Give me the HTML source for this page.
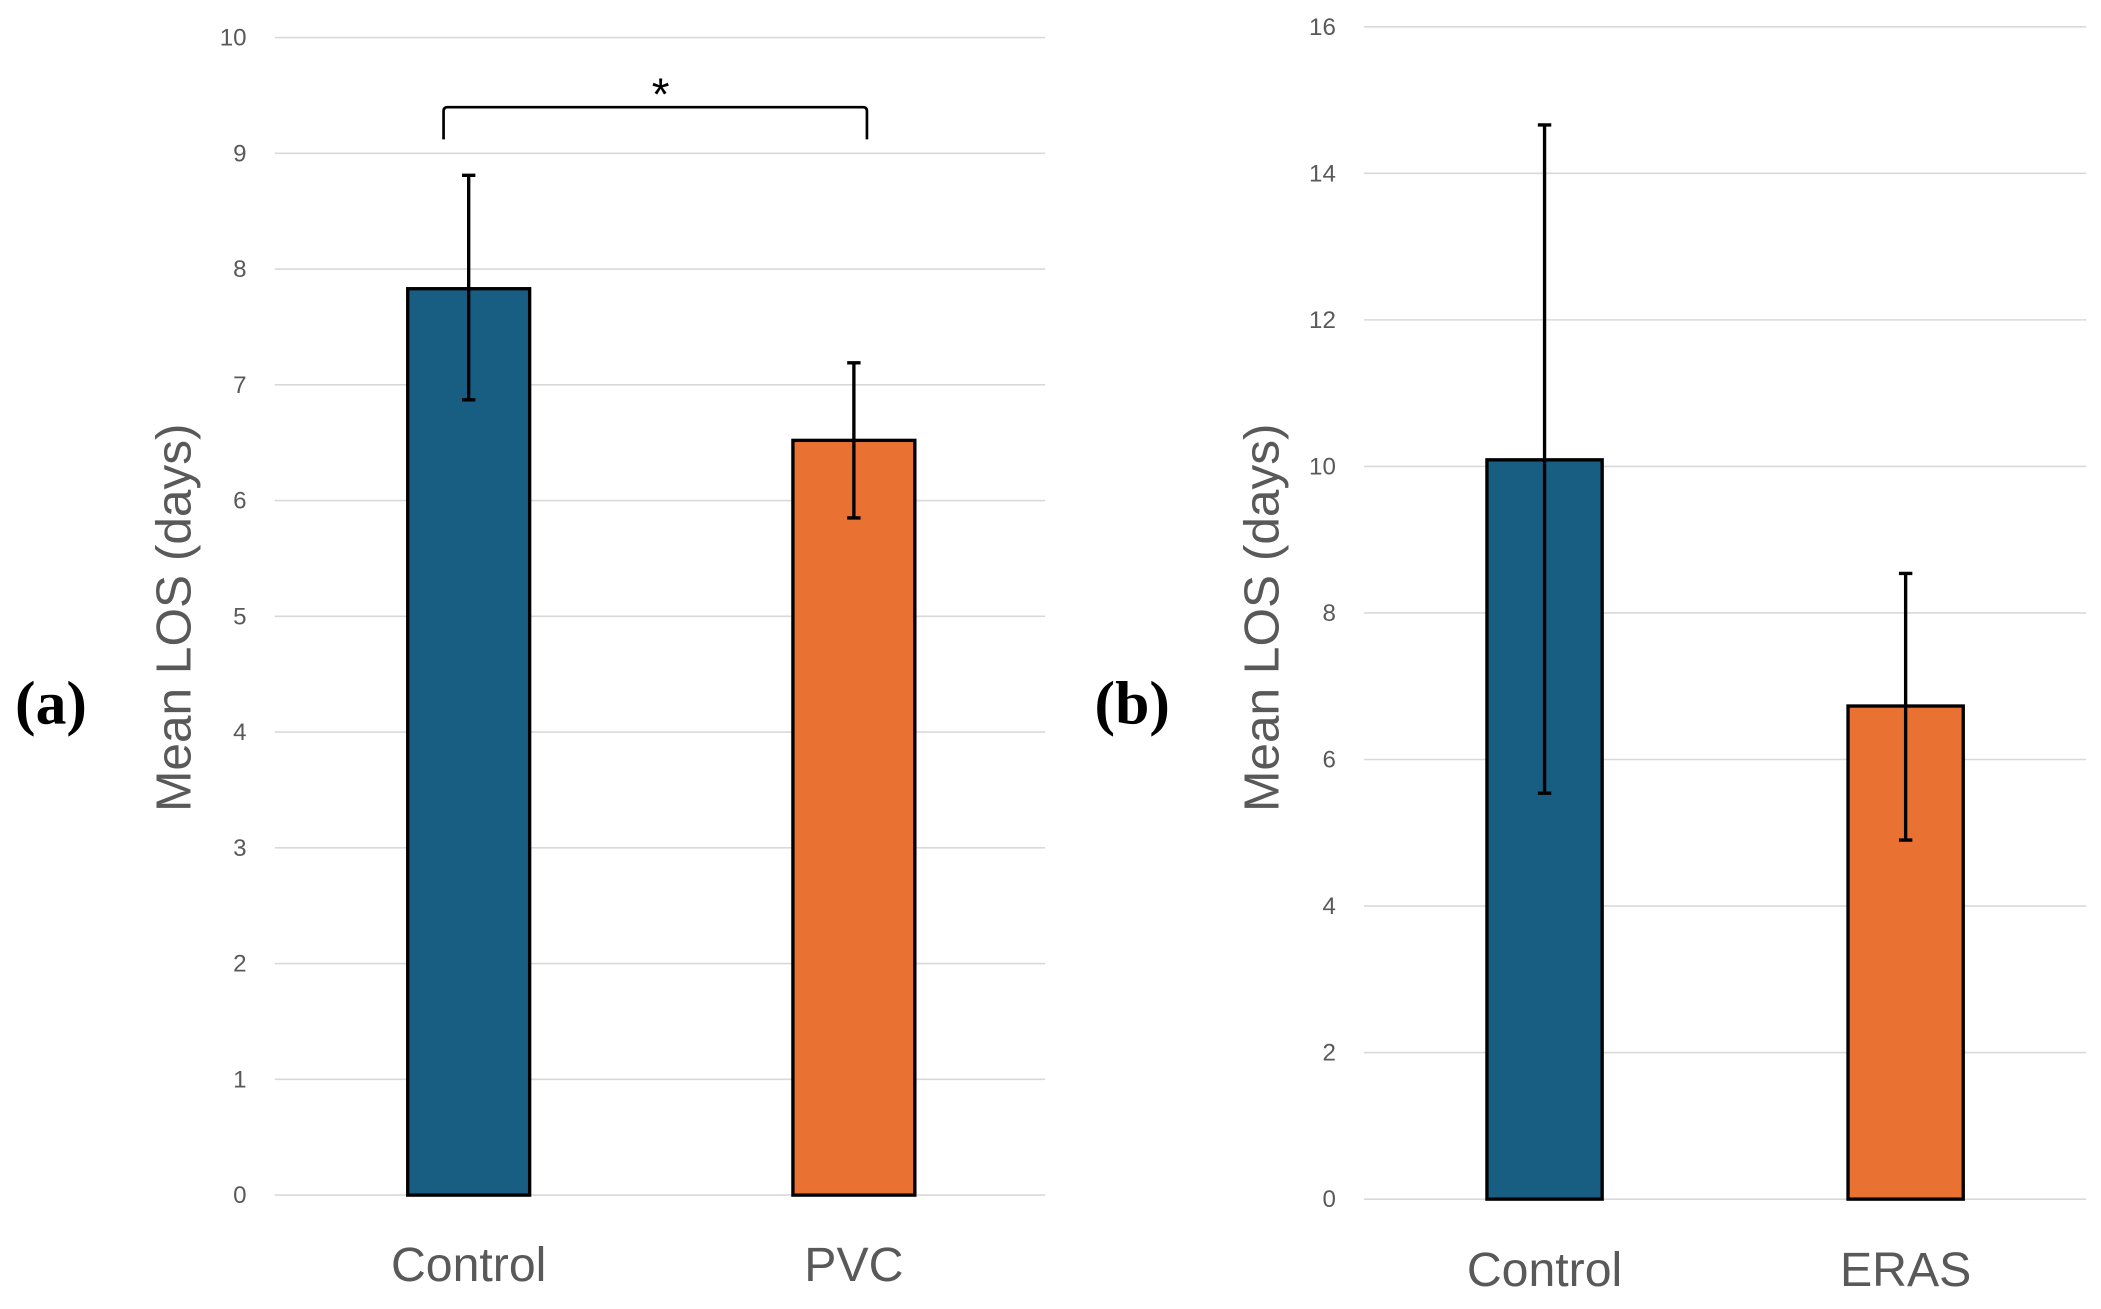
<!DOCTYPE html>
<html><head><meta charset="utf-8"><style>html,body{margin:0;padding:0;background:#fff}svg{display:block}</style></head>
<body>
<svg id="chart" width="2101" height="1309" viewBox="0 0 1568 977" xmlns="http://www.w3.org/2000/svg" font-family="Liberation Sans, sans-serif"></svg>
<script>
const catsA = ["Control", "PVC"];
const valsA = [7.83, 6.52];
const errLoA = [6.87, 5.85];
const errHiA = [8.81, 7.19];
const ticksA = [0,1,2,3,4,5,6,7,8,9,10];
const catsB = ["Control", "ERAS"];
const valsB = [10.09, 6.73];
const errLoB = [5.54, 4.90];
const errHiB = [14.66, 8.54];
const ticksB = [0,2,4,6,8,10,12,14,16];
const colors = ["#175e82", "#e97132"];
const NS = "http://www.w3.org/2000/svg";
const svg = document.getElementById('chart');
function mk(tag, attrs, parent, text){
  const e = document.createElementNS(NS, tag);
  for (const k in attrs) e.setAttribute(k, attrs[k]);
  if (text !== undefined) e.textContent = text;
  (parent||svg).appendChild(e); return e;
}
function panel(p){
  const g = mk('g', {});
  
  
  const y = v => p.y0 - (v - p.min) / (p.max - p.min) * (p.y0 - p.y1);
  p.ticks.forEach(t => {
    const l = mk('line', {x1:p.gx0, x2:p.gx1, y1:y(t), y2:y(t), stroke:'#d9d9d9', 'stroke-width':1.2}, g);
    
    
    const tx = mk('text', {x:p.tickX, y:y(t)+6, 'text-anchor':'end', 'font-size':18, fill:'#595959'}, g, String(t));
    
    
  });
  const slot = (p.gx1 - p.gx0) / p.cats.length;
  p.cats.forEach((c, i) => {
    const cx = p.gx0 + slot * (i + 0.5) + p.shift;
    const r = mk('rect', {x:cx - p.bw/2, y:y(p.vals[i]), width:p.bw, height:y(0)-y(p.vals[i]), fill:colors[i], stroke:'#000', 'stroke-width':2.5}, g);
    
    
    const e = mk('path', {d:`M${cx},${y(p.lo[i])}V${y(p.hi[i])}M${cx-5},${y(p.lo[i])}H${cx+5}M${cx-5},${y(p.hi[i])}H${cx+5}`, stroke:'#000', 'stroke-width':2.5, fill:'none'}, g);
    
    
    const lab = mk('text', {x:cx, y:p.labY, 'text-anchor':'middle', 'font-size':36, fill:'#595959'}, g, c);
    
    
  });
  const yt = mk('text', {x:0, y:0, transform:`translate(${p.titleX},${p.titleY}) rotate(-90)`, 'text-anchor':'middle', 'font-size':37, fill:'#595959'}, g, 'Mean LOS (days)');
  
  
  const pl = mk('text', {x:p.plX, y:540, 'text-anchor':'middle', 'font-size':46, 'font-weight':'bold', 'font-family':'Liberation Serif, serif', fill:'#000'}, g, p.label);
  
  
  return {y, slot};
}
panel({name:'panel-a', cats:catsA, vals:valsA, lo:errLoA, hi:errHiA, ticks:ticksA, min:0, max:10, y0:892, y1:28, gx0:205, gx1:780, tickX:184, bw:91, shift:1, labY:956, titleX:142, titleY:461, plX:38, label:'(a)'});
const br = mk('path', {d:'M331,104 V83 Q331,80 334,80 H644 Q647,80 647,83 V104', stroke:'#000', 'stroke-width':2, fill:'none'});


const st = mk('text', {x:493, y:82, 'text-anchor':'middle', 'font-size':34, fill:'#000'}, svg, '*');


panel({name:'panel-b', cats:catsB, vals:valsB, lo:errLoB, hi:errHiB, ticks:ticksB, min:0, max:16, y0:895, y1:20, gx0:1018, gx1:1557, tickX:997, bw:86, shift:0, labY:960, titleX:954, titleY:461, plX:845, label:'(b)'});
</script>
</body></html>
